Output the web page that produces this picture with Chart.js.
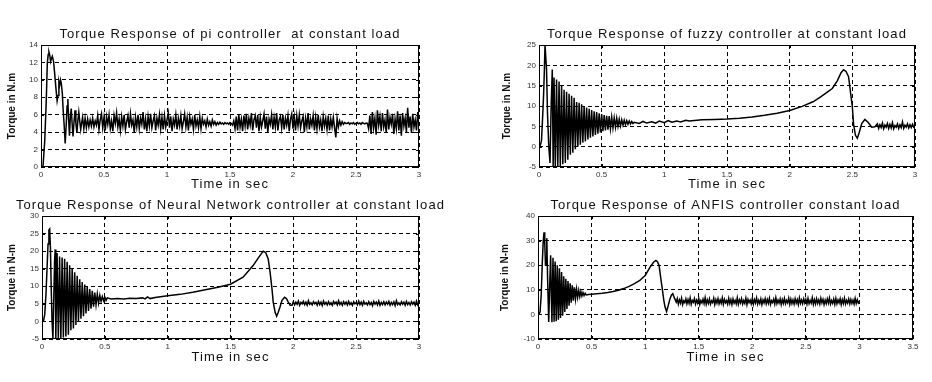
<!DOCTYPE html>
<html>
<head>
<meta charset="utf-8">
<script src="https://cdn.jsdelivr.net/npm/chart.js@4"></script>
<style>
  body { margin: 0; background: #fff; width: 932px; height: 382px; overflow: hidden; position: relative; }
  canvas { position: absolute; }
</style>
</head>
<body>
<canvas id="chartPi" width="440" height="178" style="left:0;top:20px"></canvas>
<canvas id="chartFuzzy" width="452" height="178" style="left:480px;top:20px"></canvas>
<canvas id="chartNN" width="460" height="175" style="left:0;top:195px"></canvas>
<canvas id="chartAnfis" width="452" height="175" style="left:480px;top:195px"></canvas>
<script>
const STEP = 0.01;

// PI controller
const piStart = [[0,0],[0.016,0.1],[0.03,3.1],[0.042,7.7],[0.05,11.9],[0.057,12.9],[0.063,13.2],[0.07,12.8],[0.076,12.1],[0.082,12.4],[0.09,12.7],[0.1,12.1],[0.108,10.8],[0.12,8.8],[0.128,7.6],[0.135,8.2],[0.142,9.8],[0.148,9.4],[0.155,10.0],[0.161,9.6],[0.169,8.5],[0.176,6.5],[0.183,5.0],[0.192,2.7],[0.2,4.8],[0.207,7.0],[0.213,7.8],[0.219,5.5],[0.226,3.6],[0.233,5.8],[0.24,6.7],[0.247,5.0],[0.254,3.5],[0.262,5.2],[0.27,6.5],[0.277,5.0],[0.285,3.9],[0.293,5.4],[0.3,6.3],[0.308,5.2],[0.315,4.3],[0.322,5.0]];
const piNoise = [
  5.7,4.4,5.6,4.5,5.5,4.6,5.4,4.7,5.6,4.6,5.3,4.8,
  5.9,4.3,5.4,6.1,4.5,5.7,4.2,5.8,4.9,6.0,
  4.4,5.3,4.1,5.9,5.0,6.2,4.6,5.5,4.2,5.8,
  4.7,6.0,4.3,5.2,5.9,4.5,6.1,4.8,5.4,4.0,
  5.7,4.6,6.0,4.4,5.6,4.9,6.3,4.3,5.5,4.1,
  5.8,4.7,6.1,4.5,5.3,5.9,4.2,5.6,4.8,6.0,
  4.4,5.7,4.3,5.9,4.6,5.4,6.2,4.5,5.8,4.1,
  5.5,4.8,6.0,4.3,5.6,4.7,5.9,4.4,5.2,6.1,
  4.6,5.7,4.2,5.8,4.9,5.5,4.3,6.0,4.7,5.4,
  4.5,5.8,4.4,5.6,4.9,5.3,4.6,5.5,4.8,5.2,
  4.7,5.4,4.9,5.2,4.8,
  5.1,4.9,5.15,4.95,5.05,4.9,5.1,4.95,5.05,4.9,5.1,5.0,4.8,5.3,
  4.4,5.8,4.2,6.0,4.6,5.5,4.1,5.9,4.7,6.1,
  4.3,5.6,4.8,6.2,4.2,5.4,5.9,4.5,6.0,4.1,
  5.7,4.6,5.3,6.1,4.4,5.8,4.0,5.5,4.9,6.0,
  4.3,5.7,4.6,6.2,4.2,5.4,5.8,4.5,6.0,4.3,
  5.6,4.8,5.9,4.1,5.5,6.1,4.4,5.7,4.2,5.9,
  4.7,6.0,4.5,5.3,5.8,4.0,5.6,4.6,6.2,4.3,
  5.5,4.8,5.9,4.2,5.7,4.4,6.0,4.6,5.4,4.1,
  5.8,4.7,5.6,4.3,5.9,4.2,5.5,4.6,5.7,4.5,
  3.4,5.6,4.6,5.3,4.8,5.2,4.9,5.1,5.0,
  5.0,5.1,4.9,5.05,4.95,5.1,4.9,5.0,5.1,4.95,5.05,4.9,5.1,5.0,4.95,5.05,5.0,
  4.4,5.9,3.8,6.3,4.5,5.6,3.7,6.5,4.8,5.8,
  4.1,6.2,4.6,5.4,3.9,6.6,4.3,5.7,4.9,6.1,
  3.8,5.5,4.4,6.4,4.2,5.9,3.6,6.2,4.7,5.6,
  4.0,6.8,4.5,5.8,3.9,6.1,4.6,5.4,4.2,6.3,
  4.8
];

// Fuzzy controller
const fuzzyStart = [[0,0],[0.01,0.3],[0.02,1.5],[0.03,8],[0.037,13],[0.043,19],[0.048,25],[0.055,25],[0.06,19],[0.068,8],[0.078,0],[0.088,-4],[0.097,10],[0.106,19],[0.113,-5]];
const fuzzyRipple = [
  17,-5,16.5,-5,16,-4.8,15,-4.3,14,-4,13.5,-3.2,13,-2,12.5,-1.5,12,-0.6,11,0,
  10.8,0.5,10.4,1.0,10,1.3,9.6,1.8,9.3,2.2,9,2.5,8.7,2.9,8.5,3.2,8.2,3.5,8.0,3.8,
  7.8,4.0,7.6,4.2,7.5,4.4,7.3,4.6,7.1,4.8,7.0,5.0,6.8,5.1,6.6,5.3,6.5,5.4,6.4,5.5,
  6.3,5.6,6.2,5.7
];
const fuzzySlow = [[0.76,6.0],[0.8,5.7],[0.83,6.2],[0.86,5.8],[0.9,6.1],[0.93,5.8],[0.96,6.3],[1.0,5.9],[1.03,6.4],[1.06,6.0],[1.1,6.3],[1.13,6.1],[1.17,6.5],[1.2,6.3],[1.3,6.6],[1.4,6.7],[1.5,6.8],[1.6,7.0],[1.7,7.3],[1.8,7.7],[1.9,8.2],[2.0,8.9],[2.1,9.9],[2.19,11.1],[2.25,12.3],[2.3,13.4],[2.34,14.3],[2.38,16.2],[2.41,18.2],[2.43,18.9],[2.45,18.5],[2.47,17.2],[2.485,13.5],[2.5,9.8],[2.51,5.5],[2.525,2.8],[2.54,2.05],[2.555,3.5],[2.575,5.7],[2.6,6.7],[2.625,6.0],[2.655,4.8],[2.68,4.9]];
const fuzzyTail = [5.6,4.5,5.4,4.7,5.8,4.4,5.3,4.8,5.7,4.5,5.5,4.6,5.9,4.4,5.2,4.8,5.6,4.5,5.4,4.7,6.1,4.5,5.3,4.8,5.6,4.6,5.4,4.7,5.5,4.8,5.2];

// Neural Network controller
const nnStart = [[0,0],[0.012,0.2],[0.022,2],[0.032,8],[0.04,15],[0.048,22],[0.055,26],[0.061,26.3],[0.067,21],[0.073,10],[0.08,0],[0.087,-4.9],[0.094,7],[0.1,17],[0.105,20.5]];
const nnRipple = [
  -5,19.5,-5,18.5,-5,18.2,-4.6,17.8,-4.3,17,-3.8,16,-2.5,15,-2,14,-1,13,0,12,
  0.8,11.2,1.5,10.5,2.3,9.9,3.0,9.2,3.6,8.7,4.2,8.2,4.7,7.8,5.2,7.4,5.7,7.1,5.9,6.9,
  6.0,6.7
];
const nnSlow = [[0.55,6.4],[0.6,6.5],[0.65,6.4],[0.7,6.6],[0.75,6.5],[0.8,6.7],[0.82,6.4],[0.84,7.0],[0.86,6.5],[0.9,6.8],[1.0,7.3],[1.1,7.7],[1.2,8.3],[1.3,9.0],[1.4,9.7],[1.5,10.6],[1.6,12.6],[1.68,15.9],[1.72,18.0],[1.76,20.0],[1.78,19.6],[1.8,17.8],[1.815,14],[1.83,9.3],[1.84,5.5],[1.855,2.6],[1.867,1.5],[1.88,2.6],[1.894,4.1],[1.91,6.0],[1.93,6.9],[1.945,6.5],[1.96,5.5],[1.975,4.6],[1.99,4.6]];
const nnTail = [
  5.6,4.7,5.5,4.9,5.8,4.6,5.4,5.0,5.7,4.8,
  5.5,4.6,5.9,4.9,5.3,4.7,5.6,5.0,5.4,4.6,
  5.7,4.8,5.5,4.5,5.8,4.9,5.4,4.7,5.6,4.8,
  5.3,4.6,5.7,5.0,5.5,4.7,5.9,4.8,5.4,4.6,
  5.6,4.9,5.5,4.7,5.7,4.8,5.3,4.6,5.6,5.0,
  5.4,4.7,5.8,4.8,5.5,4.6,5.7,4.9,5.3,4.7,
  5.6,4.8,5.4,4.5,5.7,4.9,5.5,4.7,5.8,4.6,
  5.4,4.8,5.6,4.7,5.5,4.9,5.7,4.6,5.4,4.8,
  5.6,4.5,5.9,4.8,5.3,4.7,5.6,4.9,5.5,4.6,
  5.7,4.8,5.4,4.7,5.6,4.9,5.5,4.6,5.8,4.7,
  5.3
];

// ANFIS controller
const anfisStart = [[0,0],[0.01,0.2],[0.019,1],[0.03,8],[0.04,21],[0.048,29],[0.056,33.4],[0.063,29],[0.07,20],[0.076,20],[0.082,31],[0.09,14],[0.1,-3.1],[0.108,10],[0.118,24],[0.124,8]];
const anfisRipple = [
  -3.2,23,-3,21.5,-2.8,20,-2.2,18.8,-1.5,17.2,-0.5,15.5,1.0,14.5,2.2,13.6,3.5,12.6,
  4.8,11.8,5.6,11.0,6.3,10.3,6.9,9.8,7.2,9.3,7.5,8.9,7.7,8.6,7.9
];
const anfisSlow = [[0.47,8.1],[0.5,8.2],[0.55,8.4],[0.6,8.6],[0.65,8.9],[0.7,9.3],[0.75,9.8],[0.8,10.5],[0.85,11.4],[0.9,12.5],[0.95,13.8],[1.0,15.8],[1.046,19.2],[1.08,21.3],[1.1,21.9],[1.115,21.4],[1.13,19.9],[1.145,15],[1.16,10.4],[1.175,5.5],[1.186,3.0],[1.2,1.2],[1.215,3.5],[1.23,6.1],[1.245,7.8],[1.258,8.4],[1.275,6.5],[1.29,5.0]];
const anfisTail = [
  6.4,4.2,5.9,4.6,6.6,4.0,5.5,4.8,6.3,4.3,
  6.0,4.5,6.7,4.1,5.7,4.9,6.4,4.2,5.8,4.6,
  6.5,4.0,5.6,4.7,6.2,4.4,6.8,4.1,5.9,4.5,
  6.3,4.2,5.5,4.8,6.6,4.0,6.0,4.6,6.4,4.3,
  5.8,4.5,6.7,4.1,6.1,4.7,5.6,4.2,6.5,4.4,
  6.0,4.0,6.3,4.6,5.7,4.3,6.8,4.1,5.9,4.7,
  6.4,4.2,5.6,4.5,6.6,4.0,6.1,4.8,5.8,4.3,
  6.5,4.1,6.0,4.6,6.7,4.2,5.7,4.4,6.3,4.0,
  5.9,4.7,6.4,4.3,6.1,4.5,6.6,4.1,5.6,4.8,
  6.2,4.2,6.8,4.4,5.8,4.6,6.3,4.0,6.0,4.5,
  6.5,4.3,5.7,4.7,6.6,4.1,6.2,4.4,5.9,4.2,
  6.4,4.6,6.0,4.0,6.7,4.5,5.8,4.3,6.3,4.7,
  6.1,4.2,6.5,4.4,5.7,4.6,6.8,4.1,6.0,4.3,
  6.4,4.5,5.9,4.2,6.6,4.7,6.1,4.0,5.8,4.4,
  6.3,4.6,6.7,4.2,5.6,4.5,6.2,4.1,6.5,4.3,
  5.9,4.7,6.4,4.0,6.0,4.4,6.6,4.2,5.7,4.6,
  6.3,4.3,6.1,4.5,5.8,4.2,6.5,4.4,6.0,4.6,
  5.2
];

// tramo muestreado -> pares [t, v]
function sampled(t0, values) {
  return values.map((v, i) => [+(t0 + i * STEP).toFixed(3), v]);
}

const piPoints = piStart.concat(sampled(0.33, piNoise));
const fuzzyPoints = fuzzyStart.concat(sampled(0.12, fuzzyRipple), fuzzySlow, sampled(2.70, fuzzyTail));
const nnPoints = nnStart.concat(sampled(0.11, nnRipple), nnSlow, sampled(2.00, nnTail));
const anfisPoints = anfisStart.concat(sampled(0.13, anfisRipple), anfisSlow, sampled(1.30, anfisTail));

const FONT = 'Arial, "Liberation Sans", sans-serif';

// marco tipo matlab, marcas hacia dentro y textos
const framePlugin = {
  id: 'frame',
  afterDraw(chart, args, opts) {
    const { ctx, chartArea: a, scales } = chart;
    ctx.save();
    ctx.strokeStyle = '#000';
    ctx.lineWidth = 1;
    ctx.strokeRect(a.left + 0.5, a.top + 0.5, a.right - a.left - 1, a.bottom - a.top - 1);
    ctx.beginPath();
    scales.x.ticks.forEach(t => {
      const x = Math.round(scales.x.getPixelForValue(t.value)) + 0.5;
      ctx.moveTo(x, a.bottom); ctx.lineTo(x, a.bottom - 3);
      ctx.moveTo(x, a.top); ctx.lineTo(x, a.top + 3);
    });
    scales.y.ticks.forEach(t => {
      const y = Math.round(scales.y.getPixelForValue(t.value)) + 0.5;
      ctx.moveTo(a.left, y); ctx.lineTo(a.left + 3, y);
      ctx.moveTo(a.right, y); ctx.lineTo(a.right - 3, y);
    });
    ctx.stroke();

    const cx = (a.left + a.right) / 2;
    ctx.fillStyle = '#111';
    ctx.textAlign = 'center';
    ctx.textBaseline = 'middle';
    ctx.letterSpacing = '1.1px';
    ctx.font = '13px ' + FONT;
    ctx.fillText(opts.title, cx, a.top - 10.5);
    ctx.fillText('Time in sec', cx, a.bottom + opts.xTitleGap);
    ctx.restore();
  }
};

function makeChart(id, points, cfg) {
  return new Chart(document.getElementById(id), {
    type: 'line',
    data: {
      datasets: [{
        data: points.map(p => ({ x: p[0], y: p[1] })),
        borderColor: '#000',
        borderWidth: 1.5,
        pointRadius: 0,
        tension: 0
      }]
    },
    options: {
      responsive: false,
      animation: false,
      layout: { padding: { top: cfg.padTop, right: cfg.padRight, left: 0, bottom: 0 } },
      plugins: {
        legend: { display: false },
        tooltip: { enabled: false },
        frame: { title: cfg.title, xTitleGap: cfg.xTitleGap }
      },
      scales: {
        x: {
          type: 'linear',
          min: 0,
          max: cfg.xMax,
          ticks: {
            stepSize: 0.5, autoSkip: false, maxRotation: 0, padding: 3, color: '#333',
            font: { family: FONT, size: 8 },
            callback: v => String(v)
          },
          grid: { color: '#000', lineWidth: 1, drawTicks: false },
          border: { display: false, dash: [4, 3] },
          afterFit: s => { s.height = 31; s.paddingLeft = 0; s.paddingRight = 0; }
        },
        y: {
          min: cfg.yMin,
          max: cfg.yMax,
          ticks: {
            stepSize: cfg.yStep, autoSkip: false, padding: 3, color: '#333',
            font: { family: FONT, size: 8 },
            callback: v => String(v)
          },
          grid: { color: '#000', lineWidth: 1, drawTicks: false },
          border: { display: false, dash: [4, 3] },
          title: {
            display: true,
            text: cfg.yTitle,
            color: '#111',
            font: { family: FONT, size: 10, weight: 'bold' },
            padding: { top: cfg.yTitlePad, bottom: 0 }
          },
          afterFit: s => { s.width = cfg.yWidth; s.paddingTop = 0; s.paddingBottom = 0; }
        }
      }
    },
    plugins: [framePlugin]
  });
}

makeChart('chartPi', piPoints, {
  title: 'Torque Response of pi controller  at constant load',
  yTitle: 'Torque in N.m',
  xMax: 3, yMin: 0, yMax: 14, yStep: 2,
  padTop: 25, padRight: 21, yWidth: 41, yTitlePad: 6, xTitleGap: 17
});

makeChart('chartFuzzy', fuzzyPoints, {
  title: 'Torque Response of fuzzy controller at constant load',
  yTitle: 'Torque in N.m',
  xMax: 3, yMin: -5, yMax: 25, yStep: 5,
  padTop: 25, padRight: 17, yWidth: 59, yTitlePad: 21, xTitleGap: 17
});

makeChart('chartNN', nnPoints, {
  title: 'Torque Response of Neural Network controller at constant load',
  yTitle: 'Torque in N-m',
  xMax: 3, yMin: -5, yMax: 30, yStep: 5,
  padTop: 21, padRight: 41, yWidth: 42, yTitlePad: 6, xTitleGap: 18.5
});

makeChart('chartAnfis', anfisPoints, {
  title: 'Torque Response of ANFIS controller constant load',
  yTitle: 'Torque in N-m',
  xMax: 3.5, yMin: -10, yMax: 40, yStep: 10,
  padTop: 21, padRight: 19, yWidth: 58, yTitlePad: 19, xTitleGap: 18.5
});
</script>
</body>
</html>
